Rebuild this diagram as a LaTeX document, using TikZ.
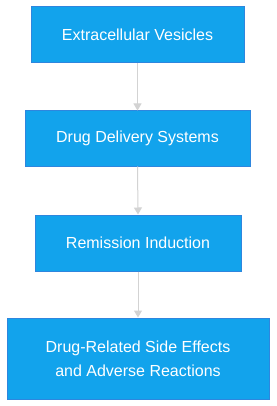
\documentclass[tikz,border=0pt]{standalone}
\usepackage{fontspec}
\setmainfont{Liberation Sans}
\usetikzlibrary{arrows.meta}
\definecolor{boxfill}{HTML}{12A3EC}
\definecolor{boxline}{HTML}{2E86DE}
\definecolor{arrowgray}{HTML}{D3D3D3}
\tikzset{
  stepbox/.style={draw=boxline, line width=1pt, fill=boxfill, text=white, inner sep=0pt, font=\fontsize{16}{24}\selectfont, align=center},
  conn/.style={draw=arrowgray, line width=1pt, -{Triangle[length=7pt,width=8pt]}}
}
\begin{document}
\begin{tikzpicture}[x=1pt,y=1pt]
\useasboundingbox (0,0) rectangle (276,-406);
\node[stepbox, minimum width=213pt, minimum height=56pt] (a) at (137.5,-35) {Extracellular Vesicles};
\node[stepbox, minimum width=225pt, minimum height=55pt] (b) at (137.5,-138.5) {Drug Delivery Systems};
\node[stepbox, minimum width=206pt, minimum height=56pt] (c) at (138,-243) {Remission Induction};
\node[stepbox, minimum width=262pt, minimum height=81pt] (d) at (138,-358.5) {Drug-Related Side Effects\\and Adverse Reactions};
\draw[conn] (a.south) -- (b.north);
\draw[conn] (b.south) -- (c.north);
\draw[conn] (c.south) -- (d.north);
\end{tikzpicture}
\end{document}
